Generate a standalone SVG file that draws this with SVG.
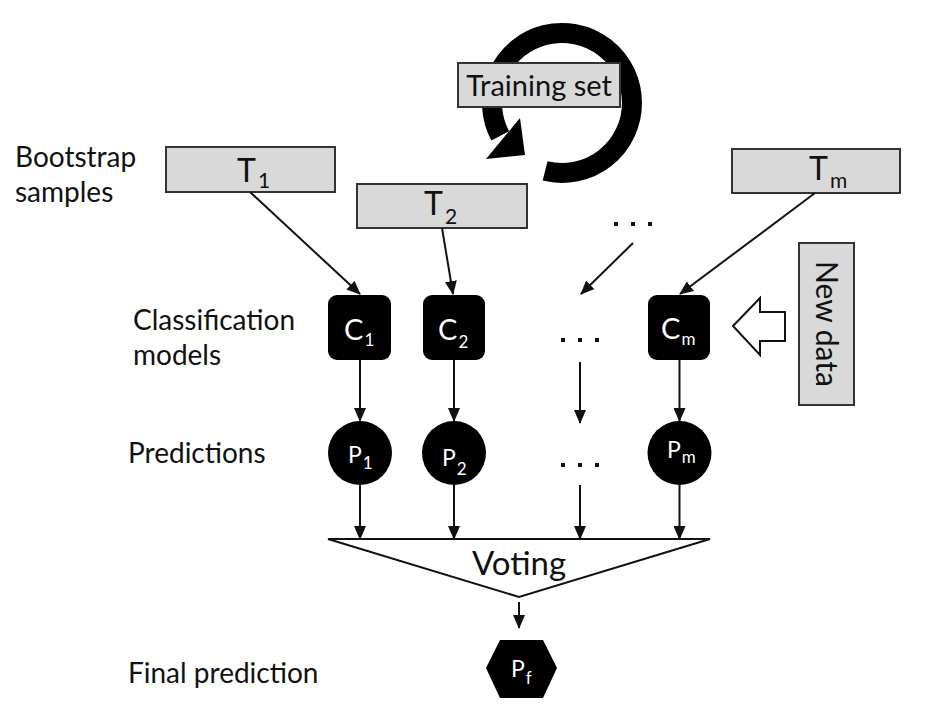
<svg xmlns="http://www.w3.org/2000/svg" width="937" height="708" viewBox="0 0 937 708">
<defs>
<style>
.lbl{font-family:Lato,"Open Sans","Liberation Sans",sans-serif;font-size:28px;fill:#111}
.box{fill:#d9d9d9;stroke:#333;stroke-width:2}
.big{font-family:Lato,"Open Sans","Liberation Sans",sans-serif;font-size:32px;fill:#111}
.sub{font-size:21px}
.wt{font-family:Lato,"Open Sans","Liberation Sans",sans-serif;font-size:29px;fill:#fff}
.wp{font-family:Lato,"Open Sans","Liberation Sans",sans-serif;font-size:23px;fill:#fff}
.wsub{font-size:17px}
.ln{stroke:#111;stroke-width:2;fill:none;marker-end:url(#ah)}
.dot{fill:#111}
</style>
<marker id="ah" markerUnits="userSpaceOnUse" markerWidth="14" markerHeight="12" refX="13" refY="6" orient="auto">
<path d="M0,0 L14,6 L0,12 Z" fill="#111"/>
</marker>
</defs>
<rect width="937" height="708" fill="#fff"/>

<g id="labels">
<text class="lbl" x="15" y="167">Bootstrap</text>
<text class="lbl" x="15" y="202">samples</text>
<text class="lbl" x="133" y="330">Classification</text>
<text class="lbl" x="133" y="365">models</text>
<text class="lbl" x="128" y="463">Predictions</text>
<text class="lbl" x="128" y="683">Final prediction</text>
</g>

<g id="training-set">
<path d="M545.1 170.9 A70 70 0 1 0 500.2 135.9" fill="none" stroke="#000" stroke-width="20"/>
<polygon points="520,118 486,159 525,155" fill="#000"/>
<rect class="box" x="458" y="63" width="162" height="44"/>
<text class="big" x="539" y="96" text-anchor="middle" style="font-size:29px">Training set</text>
</g>

<g id="T1">
<rect class="box" x="166" y="147" width="169" height="45"/>
<text class="big" x="237" y="182">T<tspan class="sub" dx="2" dy="6">1</tspan></text>
</g>
<g id="T2">
<rect class="box" x="357" y="184" width="170" height="44"/>
<text class="big" x="424" y="215">T<tspan class="sub" dx="2" dy="9">2</tspan></text>
</g>
<g id="Tm">
<rect class="box" x="732" y="149" width="168" height="44"/>
<text class="big" x="809" y="180">T<tspan class="sub" dx="2" dy="8">m</tspan></text>
</g>

<g id="new-data">
<rect class="box" x="799" y="243" width="55" height="162"/>
<text class="big" transform="translate(816 324) rotate(90)" text-anchor="middle" style="font-size:30px">New data</text>
</g>
<g id="new-data-arrow">
<polygon points="733,326 760,298 760,312 785,312 785,341 760,341 760,355" fill="#fff" stroke="#111" stroke-width="2"/>
</g>

<g id="C1">
<rect x="328" y="295" width="63" height="65" rx="9" fill="#000"/>
<text class="wt" x="344" y="340">C<tspan class="wsub" dx="1" dy="6">1</tspan></text>
</g>
<g id="C2">
<rect x="423" y="295" width="62" height="65" rx="9" fill="#000"/>
<text class="wt" x="438" y="340">C<tspan class="wsub" dx="1" dy="8">2</tspan></text>
</g>
<g id="Cm">
<rect x="648" y="295" width="62" height="65" rx="9" fill="#000"/>
<text class="wt" x="661" y="339">C<tspan class="wsub" dx="1" dy="6">m</tspan></text>
</g>

<g id="P1">
<circle cx="360" cy="453" r="32" fill="#000"/>
<text class="wp" x="348" y="463">P<tspan class="wsub" dx="1" dy="6">1</tspan></text>
</g>
<g id="P2">
<circle cx="454" cy="453" r="32" fill="#000"/>
<text class="wp" x="442" y="466">P<tspan class="wsub" dx="1" dy="9">2</tspan></text>
</g>
<g id="Pm">
<circle cx="679.5" cy="453" r="32" fill="#000"/>
<text class="wp" x="667" y="458">P<tspan class="wsub" dx="1" dy="5">m</tspan></text>
</g>

<g id="dots">
<rect class="dot" x="614" y="222" width="4" height="4"/>
<rect class="dot" x="631" y="222" width="4" height="4"/>
<rect class="dot" x="648" y="222" width="4" height="4"/>
<rect class="dot" x="561" y="338" width="4" height="4"/>
<rect class="dot" x="578" y="338" width="4" height="4"/>
<rect class="dot" x="595" y="338" width="4" height="4"/>
<rect class="dot" x="561" y="463" width="4" height="4"/>
<rect class="dot" x="578" y="463" width="4" height="4"/>
<rect class="dot" x="595" y="463" width="4" height="4"/>
</g>

<g id="voting">
<polygon points="328,539 710,539 519,597" fill="#fff" stroke="#111" stroke-width="2"/>
<text class="big" x="519" y="575" text-anchor="middle" style="font-size:33px">Voting</text>
</g>

<g id="Pf">
<polygon points="486,668 500,640 543,640 557,668 543,698 500,698" fill="#000"/>
<text class="wp" x="511" y="677">P<tspan class="wsub" dx="1" dy="7">f</tspan></text>
</g>

<g id="connectors">
<line class="ln" x1="250" y1="192" x2="360" y2="294"/>
<line class="ln" x1="442" y1="228" x2="453" y2="294"/>
<line class="ln" x1="633" y1="243" x2="581" y2="294"/>
<line class="ln" x1="815" y1="193" x2="680" y2="294"/>
<line class="ln" x1="360" y1="360" x2="360" y2="421"/>
<line class="ln" x1="454" y1="360" x2="454" y2="421"/>
<line class="ln" x1="580" y1="362" x2="580" y2="423"/>
<line class="ln" x1="679.5" y1="360" x2="679.5" y2="421"/>
<line class="ln" x1="360" y1="485" x2="360" y2="539"/>
<line class="ln" x1="454" y1="485" x2="454" y2="539"/>
<line class="ln" x1="580" y1="485" x2="580" y2="539"/>
<line class="ln" x1="679.5" y1="485" x2="679.5" y2="539"/>
<line class="ln" x1="519" y1="602" x2="519" y2="628"/>
</g>
</svg>
